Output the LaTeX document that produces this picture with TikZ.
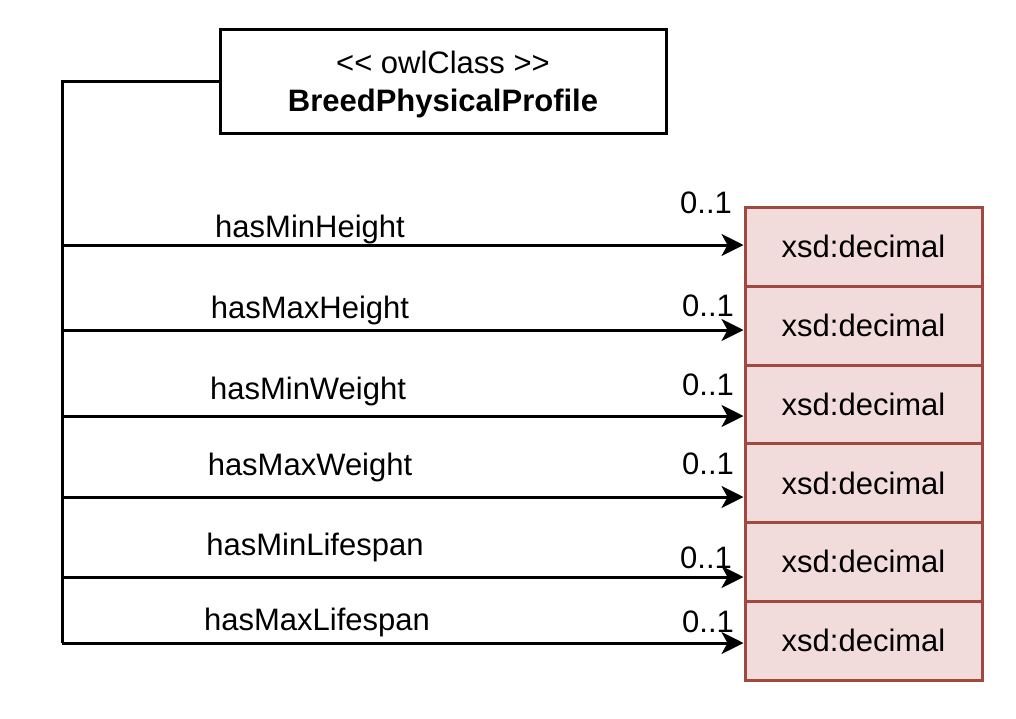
\documentclass[tikz,border=0pt]{standalone}
\usepackage{fontspec}
\setmainfont{Liberation Sans}
\usetikzlibrary{arrows.meta}
\definecolor{dtfill}{HTML}{F2DCDB}
\definecolor{dtline}{HTML}{A0493D}
\begin{document}
\begin{tikzpicture}[x=1pt,y=-1pt,font=\fontsize{31}{38}\selectfont,
    dtbox/.style={draw=dtline,fill=dtfill,line width=3pt,minimum width=237pt,minimum height=79pt,inner sep=0pt},
    rel/.style={line width=3pt,-{Stealth[length=22pt,width=22pt,inset=6pt]}}]
    \useasboundingbox (0,0) rectangle (1016,718);
    \node[draw,line width=3pt,minimum width=446pt,minimum height=104pt] (c) at (443,81){};
    \node[align=center] (ct) at ([yshift=-3.5pt]c.center){<\kern0pt< owlClass >\kern0pt>\\\textbf{BreedPhysicalProfile}};

    \node[dtbox] (d0) at (863.5,246.5){xsd:decimal};
    \node[dtbox] (d1) at (863.5,325.5){xsd:decimal};
    \node[dtbox] (d2) at (863.5,404.5){xsd:decimal};
    \node[dtbox] (d3) at (863.5,483){xsd:decimal};
    \node[dtbox] (d4) at (863.5,561.5){xsd:decimal};
    \node[dtbox] (d5) at (863.5,640.5){xsd:decimal};

    \coordinate (top) at (62,81);
    \coordinate (a0) at (62,245);
    \coordinate (a1) at (62,330);
    \coordinate (a2) at (62,416);
    \coordinate (a3) at (62,497);
    \coordinate (a4) at (62,577);
    \coordinate (a5) at (62,643);

    \draw[line width=3pt] (c.west) -- (top) -- (a5);

    \draw[rel] (a0) -- (a0 -| d0.west);
    \draw[rel] (a1) -- (a1 -| d1.west);
    \draw[rel] (a2) -- (a2 -| d2.west);
    \draw[rel] (a3) -- (a3 -| d3.west);
    \draw[rel] (a4) -- (a4 -| d4.west);
    \draw[rel] (a5) -- (a5 -| d5.west);

    \node (l0) at (310,229){hasMinHeight};
    \node (l1) at (310,310){hasMaxHeight};
    \node (l2) at (308,391){hasMinWeight};
    \node (l3) at (310,467){hasMaxWeight};
    \node (l4) at (315,547){hasMinLifespan};
    \node (l5) at (317,622){hasMaxLifespan};

    \node (m0) at (706,203){0..1};
    \node (m1) at (708,306){0..1};
    \node (m2) at (708,385){0..1};
    \node (m3) at (708,464){0..1};
    \node (m4) at (706,558){0..1};
    \node (m5) at (708,622){0..1};
\end{tikzpicture}
\end{document}
